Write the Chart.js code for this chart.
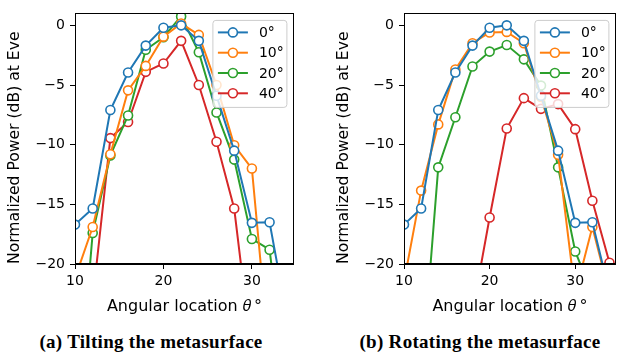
<!DOCTYPE html>
<html>
<head>
<meta charset="utf-8">
<script src="https://cdn.jsdelivr.net/npm/chart.js@4/dist/chart.umd.min.js"></script>
<style>
  html, body { margin: 0; padding: 0; background: #fff; }
  body { width: 622px; height: 353px; position: relative; overflow: hidden; }
  .wrap { position: absolute; top: 0; }
  .cap { position: absolute; top: 331px; font-family: "Liberation Serif", serif; font-weight: bold; font-size: 19px; letter-spacing: 0.3px; color: #000; white-space: nowrap; transform: translateX(-50%); }
</style>
</head>
<body>
<div class="wrap" id="wa" style="left:0;width:300px;height:320px;"><canvas id="ca"></canvas></div>
<div class="wrap" id="wb" style="left:329px;width:293px;height:320px;"><canvas id="cb"></canvas></div>
<div class="cap" style="left:151px;">(a) Tilting the metasurface</div>
<div class="cap" style="left:480px;">(b) Rotating the metasurface</div>
<script>
// ---- data ----
const angles = [10, 12, 14, 16, 18, 20, 22, 24, 26, 28, 30, 32, 34];
const seriesNames = ['0°', '10°', '20°', '40°'];
const xTicks = [10, 20, 30];
const yTicks = [-20, -15, -10, -5, 0];

// (a) Tilting the metasurface
const tilt0  = [-16.7, -15.35, -7.1, -3.95, -1.7, -0.2, 0.0, -1.3, -5.9, -10.5, -16.55, -16.5, -24.6];
const tilt10 = [-21.2, -16.9, -10.8, -5.45, -3.4, -0.95, 0.15, -0.8, -5.0, -10.05, -12.0, -28.0, null];
const tilt20 = [-35.0, -17.4, -10.9, -7.55, -2.05, -1.0, 0.75, -2.25, -7.3, -11.25, -17.9, -18.8, -30.8];
const tilt40 = [null, -23.0, -9.45, -8.1, -3.9, -3.2, -1.3, -5.0, -9.75, -15.35, -27.6, null, null];

// (b) Rotating the metasurface
const rot0  = [-16.7, -15.35, -7.1, -3.95, -1.7, -0.2, 0.0, -1.3, -5.9, -10.5, -16.55, -16.5, -22.4];
const rot10 = [-21.5, -13.85, -8.3, -3.7, -1.5, -0.6, -0.55, -1.5, -6.0, -10.85, -22.5, -16.9, -22.5];
const rot20 = [null, -30.0, -11.9, -7.7, -3.45, -2.2, -1.65, -2.85, -5.05, -11.9, -18.95, -22.5, null];
const rot40 = [null, null, null, null, -24.0, -16.1, -8.65, -6.1, -7.0, -6.6, -8.7, -14.7, -19.9];

const colors = ['#1f77b4', '#ff7f0e', '#2ca02c', '#d62728'];
const FONT = 'DejaVu Sans';

function makeDatasets(arrs) {
  return arrs.map((arr, i) => ({
    label: seriesNames[i],
    data: arr,
    borderColor: colors[i],
    backgroundColor: colors[i],
    borderWidth: 2,
    pointRadius: 4.5,
    pointHoverRadius: 4.5,
    pointBackgroundColor: '#ffffff',
    pointBorderColor: colors[i],
    pointBorderWidth: 1.6,
    tension: 0,
    clip: 0,
    spanGaps: false
  }));
}

function fmtMinus(v) { return v < 0 ? '\u2212' + Math.abs(v) : String(v); }

const framePlugin = {
  id: 'frame',
  afterDraw(chart) {
    const a = chart.chartArea, ctx = chart.ctx;
    ctx.save();
    ctx.strokeStyle = '#000';
    ctx.lineWidth = 1;
    ctx.strokeRect(Math.round(a.left) + 0.5, Math.round(a.top) + 0.5, Math.round(a.right - a.left) - 1, Math.round(a.bottom - a.top) - 1);
    ctx.restore();
  }
};

const legendPlugin = {
  id: 'mplLegend',
  afterDraw(chart, args, opts) {
    const a = chart.chartArea, ctx = chart.ctx;
    const w = 74, h = 87;
    const x0 = a.right - opts.gap - w, y0 = a.top + 7;
    ctx.save();
    ctx.beginPath();
    const r = 3;
    ctx.moveTo(x0 + r, y0);
    ctx.arcTo(x0 + w, y0, x0 + w, y0 + h, r);
    ctx.arcTo(x0 + w, y0 + h, x0, y0 + h, r);
    ctx.arcTo(x0, y0 + h, x0, y0, r);
    ctx.arcTo(x0, y0, x0 + w, y0, r);
    ctx.closePath();
    ctx.fillStyle = 'rgba(255,255,255,0.8)';
    ctx.fill();
    ctx.strokeStyle = '#cccccc';
    ctx.lineWidth = 1;
    ctx.stroke();
    chart.data.datasets.forEach((ds, i) => {
      const y = y0 + 12 + i * 20.3;
      ctx.beginPath();
      ctx.strokeStyle = ds.borderColor;
      ctx.lineWidth = 2;
      ctx.moveTo(x0 + 5, y);
      ctx.lineTo(x0 + 35, y);
      ctx.stroke();
      ctx.beginPath();
      ctx.arc(x0 + 20, y, 4.5, 0, Math.PI * 2);
      ctx.fillStyle = '#fff';
      ctx.fill();
      ctx.lineWidth = 1.6;
      ctx.stroke();
      ctx.fillStyle = '#000';
      ctx.font = '14px "' + FONT + '"';
      ctx.textBaseline = 'middle';
      ctx.textAlign = 'left';
      ctx.fillText(ds.label, x0 + 46, y + 1);
    });
    ctx.restore();
  }
};

function makeChart(id, arrs, padRight, gap) {
  return new Chart(document.getElementById(id), {
    type: 'line',
    data: { labels: angles, datasets: makeDatasets(arrs) },
    plugins: [framePlugin, legendPlugin],
    options: {
      responsive: true,
      maintainAspectRatio: false,
      animation: false,
      events: [],
      layout: { padding: { top: 8, right: padRight, bottom: 0, left: 0 } },
      plugins: {
        legend: { display: false },
        tooltip: { enabled: false },
        mplLegend: { gap: gap }
      },
      scales: {
        x: {
          type: 'linear',
          min: 10,
          max: 34.75,
          afterBuildTicks: s => { s.ticks = xTicks.map(v => ({ value: v })); },
          afterFit: s => { s.height = 56; },
          grid: { display: true, drawOnChartArea: false, drawTicks: true, tickLength: 5, color: '#000', tickWidth: 1 },
          border: { display: true, color: '#000', width: 1 },
          ticks: { color: '#000', font: { family: FONT, size: 14 }, padding: 4, maxRotation: 0, autoSkip: false, callback: v => fmtMinus(v) },
          title: { display: true, text: 'Angular location \u{1D703}\u2009°', color: '#000', font: { family: FONT, size: 16 }, padding: { top: 4, bottom: 4 } }
        },
        y: {
          type: 'linear',
          min: -20,
          max: 1,
          afterBuildTicks: s => { s.ticks = yTicks.map(v => ({ value: v })); },
          afterFit: s => { s.width = 75; },
          grid: { display: true, drawOnChartArea: false, drawTicks: true, tickLength: 5, color: '#000', tickWidth: 1 },
          border: { display: true, color: '#000', width: 1 },
          ticks: { color: '#000', font: { family: FONT, size: 14 }, padding: 5, autoSkip: false, callback: v => fmtMinus(v) },
          title: { display: true, text: 'Normalized Power (dB) at Eve', align: 'start', color: '#000', font: { family: FONT, size: 15.6 }, padding: { top: 6, bottom: 0 } }
        }
      }
    }
  });
}

makeChart('ca', [tilt0, tilt10, tilt20, tilt40], 6, 7);
makeChart('cb', [rot0, rot10, rot20, rot40], 1, 7);
</script>
</body>
</html>
